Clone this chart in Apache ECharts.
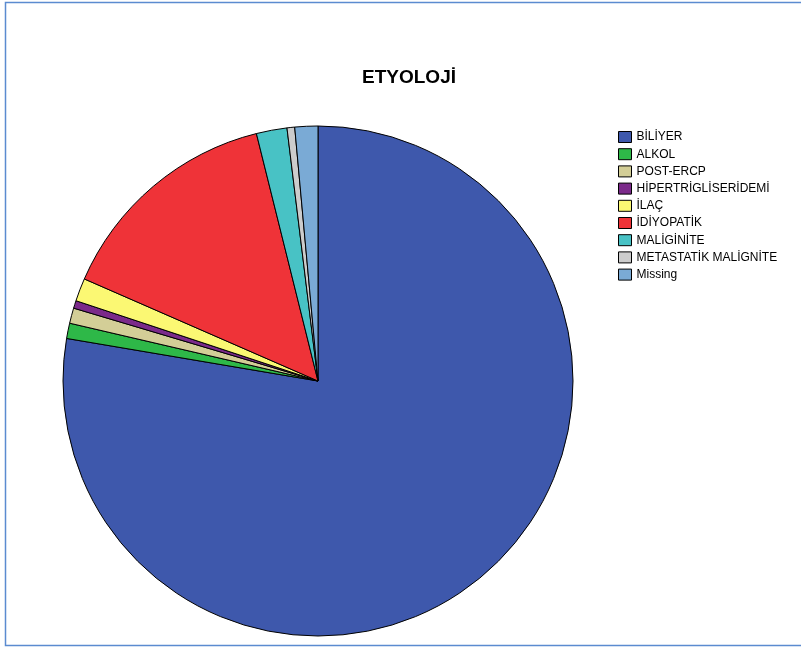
<!DOCTYPE html>
<html>
<head>
<meta charset="utf-8">
<script src="https://cdn.jsdelivr.net/npm/echarts@6/dist/echarts.min.js"></script>
<style>
html,body{margin:0;padding:0;background:#fff;}
#chart{width:801px;height:648px;}
</style>
</head>
<body>
<div id="chart"></div>
<script>
const categories = ["BİLİYER","ALKOL","POST-ERCP","HİPERTRİGLİSERİDEMİ","İLAÇ","İDİYOPATİK","MALİGİNİTE","METASTATİK MALİGNİTE","Missing"];
const values = [160, 2, 2, 1, 3, 30, 4, 1, 3];
const colors = ["#3e58ac","#2eb848","#d3ce97","#7b2a8a","#fbf873","#ef3338","#48c2c5","#cccccc","#7aaad5"];
const titleText = "ETYOLOJİ";

const chart = echarts.init(document.getElementById('chart'), null, {renderer:'canvas'});
chart.setOption({
  animation: false,
  backgroundColor: '#fff',
  title: {
    text: titleText,
    left: 404, top: 63, textAlign: 'center',
    textStyle: {fontFamily: 'Liberation Sans', fontSize: 19, fontWeight: 'bold', color: '#000'}
  },
  graphic: [{
    type: 'rect', shape: {x: 5.5, y: 2.5, width: 820, height: 643},
    style: {fill: 'none', stroke: '#5b8bd0', lineWidth: 1.5}, silent: true
  }],
  legend: {
    orient: 'vertical', left: 613, top: 126,
    itemWidth: 13, itemHeight: 11, itemGap: 5.2,
    icon: 'rect',
    itemStyle: {borderColor: '#000', borderWidth: 1},
    textStyle: {fontFamily: 'Liberation Sans', fontSize: 12, color: '#000'},
    data: categories
  },
  series: [{
    type: 'pie',
    center: [318, 381],
    radius: [0, 255],
    startAngle: 90,
    clockwise: true,
    label: {show: false},
    labelLine: {show: false},
    itemStyle: {borderColor: '#000', borderWidth: 1},
    emphasis: {disabled: true},
    data: categories.map((c, i) => ({name: c, value: values[i], itemStyle: {color: colors[i]}}))
  }]
});
</script>
</body>
</html>
